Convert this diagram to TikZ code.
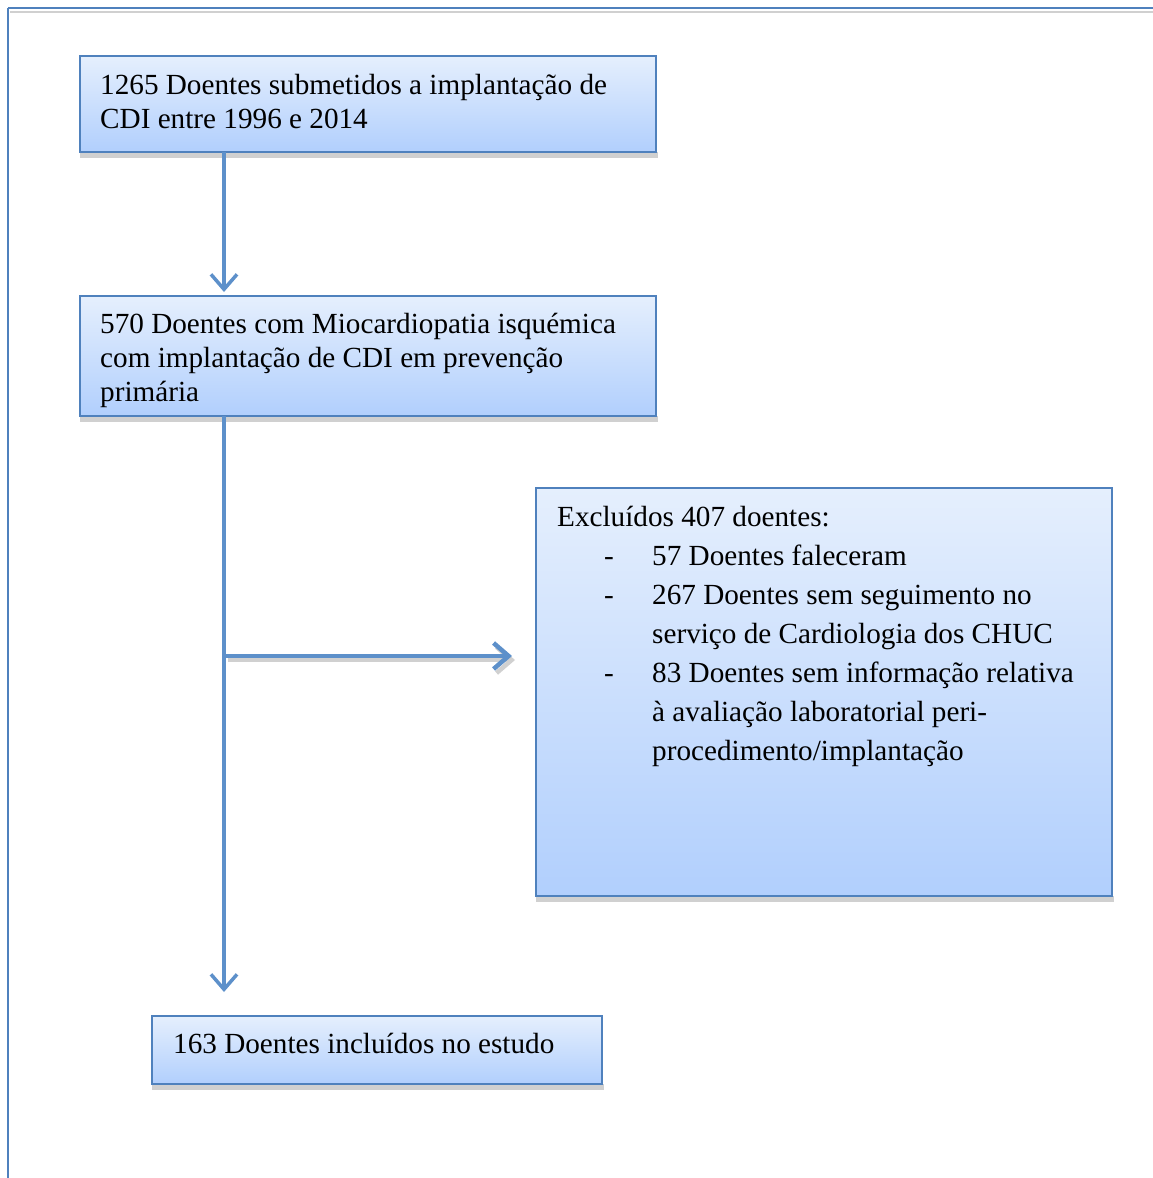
\documentclass[tikz,border=0pt]{standalone}
\usepackage{fontspec}
\setmainfont{Liberation Serif}
\usetikzlibrary{arrows.meta}
\definecolor{wordblue}{HTML}{4F81BD}
\definecolor{arrowblue}{HTML}{5D90CA}
\definecolor{boxtop}{HTML}{E5EFFD}
\definecolor{boxbot}{HTML}{B1CFFD}
\definecolor{shadowgray}{HTML}{D0D0D0}
\tikzset{
  x=1pt, y=-1pt,
  txt/.style={anchor=base west, inner sep=0pt, font=\fontsize{29.2}{34}\selectfont},
  flowbox/.style={draw=wordblue, line width=2.2pt, top color=boxtop, bottom color=boxbot},
  boxshadow/.style={fill=shadowgray, draw=none},
  conn/.style={draw=arrowblue, line width=3.5pt},
  connshadow/.style={draw=shadowgray, line width=4.5pt},
  tip/.style={-{Straight Barb[length=15pt,width=26pt,line width=3.5pt]}},
  tipwide/.style={-{Straight Barb[length=15pt,width=26pt,line width=4.5pt]}},
}
\begin{document}
\begin{tikzpicture}
\useasboundingbox (0,0) rectangle (1153,1178);
% frame
\draw[draw=shadowgray, line width=2pt] (10,12) -- (1153,12);
\draw[draw=wordblue, line width=2pt] (8,8) -- (1153,8);
\draw[draw=wordblue, line width=2pt] (8,8) -- (8,1178);

% shadows of boxes
\fill[boxshadow] (80,152) rectangle (658,158);
\fill[boxshadow] (80,416) rectangle (658,422);
\fill[boxshadow] (536,896) rectangle (1114,902);
\fill[boxshadow] (152,1084) rectangle (604,1090);

% boxes
\path[flowbox] (80,56) rectangle (656,152);
\coordinate (b1) at (224,152);
\path[flowbox] (80,296) rectangle (656,416);
\coordinate (b2tip) at (224,292);
\coordinate (b2) at (224,416);
\path[flowbox] (536,488) rectangle (1112,896);
\coordinate (b3) at (512,656);
\path[flowbox] (152,1016) rectangle (602,1084);
\coordinate (b4top) at (224,992);
\coordinate (split) at (224,656);
\coordinate (splitsh) at (228,660);
\coordinate (b3sh) at (515,660);

% connectors shadows
\draw[connshadow, tipwide] (splitsh) -- (b3sh);

% connectors
\draw[conn, tip] (b1) -- (b2tip);
\draw[conn, tip] (b2) -- (b4top);
\draw[conn, line width=4.5pt, tipwide] (split) -- (b3);

% texts
\node[txt] (t1a) at (100,94) {1265 Doentes submetidos a implantação de};
\node[txt] (t1b) at (100,128) {CDI entre 1996 e 2014};
\node[txt] (t2a) at (100,333) {570 Doentes com Miocardiopatia isquémica};
\node[txt] (t2b) at (100,367) {com implantação de CDI em prevenção};
\node[txt] (t2c) at (100,401) {primária};
\node[txt] (t3a) at (557,526) {Excluídos 407 doentes:};
\node[txt] (d1) at (604,565) {-};
\node[txt] (t3b) at (652,565) {57 Doentes faleceram};
\node[txt] (d2) at (604,604) {-};
\node[txt] (t3c) at (652,604) {267 Doentes sem seguimento no};
\node[txt] (t3d) at (652,643) {serviço de Cardiologia dos CHUC};
\node[txt] (d3) at (604,682) {-};
\node[txt] (t3e) at (652,682) {83 Doentes sem informação relativa};
\node[txt] (t3f) at (652,721) {à avaliação laboratorial peri-};
\node[txt] (t3g) at (652,760) {procedimento/implantação};
\node[txt] (t4) at (173,1053) {163 Doentes incluídos no estudo};
\end{tikzpicture}
\end{document}
